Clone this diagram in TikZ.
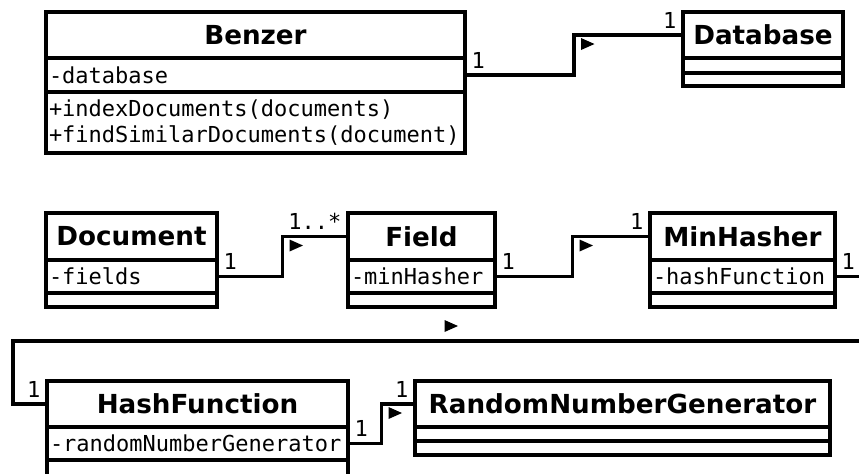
\documentclass[tikz,border=0pt]{standalone}
\usepackage{fontspec}
\setmainfont{DejaVu Sans}
\setmonofont{DejaVu Sans Mono}
\usetikzlibrary{
    positioning,
    calc
}
\tikzset{
  classbox/.style  = {draw, line width=1.6pt, outer sep=0pt,
                      inner xsep=1.5pt, inner ysep=0pt},
  classname/.style = {classbox, anchor=north west, minimum height=23pt,
                      align=center, font=\bfseries\fontsize{13.1}{15}\selectfont},
  classpart/.style = {classbox, minimum height=#1, align=left,
                      font=\ttfamily\fontsize{11}{13}\selectfont},
  mult/.style      = {inner sep=2.5pt, font=\ttfamily\fontsize{11}{13}\selectfont},
  assoc/.style     = {line width=1.6pt},
  dirtip/.pic      = {\fill (-6,-6) -- (7.5,0) -- (-6,6) -- cycle;}
}

\begin{document}
\begin{tikzpicture}[x=0.5pt, y=-0.5pt]
\useasboundingbox (0,0) rectangle (859,473);
\fill[white] (0,0) rectangle (859,473);
\clip (0,0) rectangle (859,473);

% classes: name, attributes, operations
\node (benzer) [classname, text width=206.5pt] at (46,12) {Benzer};
\node (benzerAttr) [classpart=17pt, text width=206.5pt, below=0pt of benzer] {-database};
\node (benzerOps) [classpart=30.5pt, text width=206.5pt, below=0pt of benzerAttr]
  {+indexDocuments(documents)\\+findSimilarDocuments(document)};

\node (db) [classname, text width=77pt] at (683,12) {Database};
\node (dbAttr) [classpart=7.5pt, text width=77pt, below=0pt of db] {};
\node (dbOps) [classpart=6.5pt, text width=77pt, below=0pt of dbAttr] {};

\node (doc) [classname, minimum height=23.5pt, text width=82.5pt] at (46,213) {Document};
\node (docAttr) [classpart=16.5pt, text width=82.5pt, below=0pt of doc] {-fields};
\node (docOps) [classpart=7pt, text width=82.5pt, below=0pt of docAttr] {};

\node (field) [classname, minimum height=23.5pt, text width=70.5pt] at (348,213) {Field};
\node (fieldAttr) [classpart=16.5pt, text width=70.5pt, below=0pt of field] {-minHasher};
\node (fieldOps) [classpart=7pt, text width=70.5pt, below=0pt of fieldAttr] {};

\node (minh) [classname, minimum height=23.5pt, text width=89.5pt] at (650,213) {MinHasher};
\node (minhAttr) [classpart=16.5pt, text width=89.5pt, below=0pt of minh] {-hashFunction};
\node (minhOps) [classpart=7pt, text width=89.5pt, below=0pt of minhAttr] {};

\node (hash) [classname, text width=147.5pt] at (47,381) {HashFunction};
\node (hashAttr) [classpart=16.5pt, text width=147.5pt, below=0pt of hash] {-randomNumberGenerator};
\node (hashOps) [classpart=8pt, text width=147.5pt, below=0pt of hashAttr] {};

\node (rng) [classname, text width=204.5pt] at (415,381) {RandomNumberGenerator};
\node (rngAttr) [classpart=7pt, text width=204.5pt, below=0pt of rng] {};
\node (rngOps) [classpart=7pt, text width=204.5pt, below=0pt of rngAttr] {};

% associations with a bend half way
\foreach \a/\b/\m in {benzerAttr/db/1, docAttr/field/1..*, fieldAttr/minh/1, hashAttr/rng/1} {
  \coordinate (\a-mid) at ($(\a.east)!.5!(\b.west)$);
  \draw[assoc] (\a.east) node[mult, above right] {1} -| (\a-mid)
    |- (\b.west) node[mult, above left] {\m};
  \pic at ($(\a-mid |- \b.west)+(13,9)$) {dirtip};
}

% MinHasher -> HashFunction runs round the right edge
\coordinate (loopR) at (880,341);
\coordinate (loopL) at (13,341);
\draw[assoc] (minhAttr.east) node[mult, above right] {1} -| (loopR) -- (loopL)
  |- (hash.west) node[mult, above left] {1};
\pic at ($(loopL)!.5!(loopR)+(4,-15)$) {dirtip};
\end{tikzpicture}
\end{document}
